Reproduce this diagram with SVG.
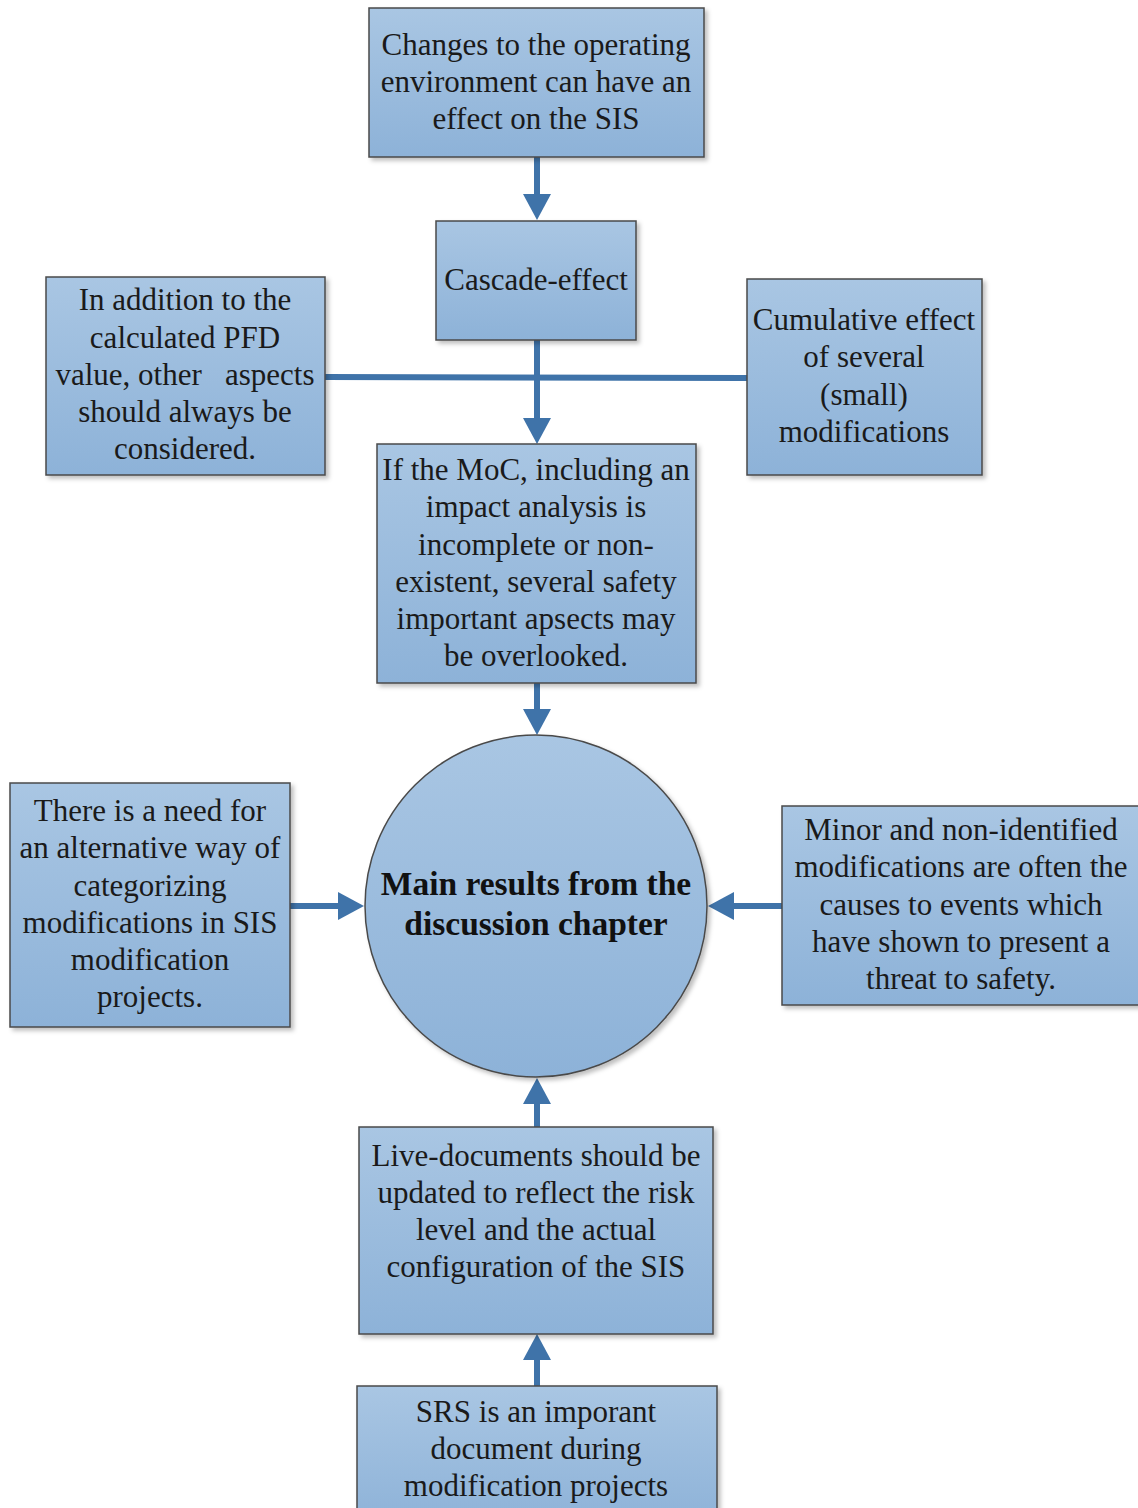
<svg xmlns="http://www.w3.org/2000/svg" width="1138" height="1508" viewBox="0 0 1138 1508">
  <defs>
    <linearGradient id="fill" x1="0" y1="0" x2="0" y2="1">
      <stop offset="0" stop-color="#a9c6e3"/>
      <stop offset="1" stop-color="#8db2d8"/>
    </linearGradient>
    <filter id="shadow" x="-10%" y="-10%" width="125%" height="125%">
      <feDropShadow dx="3" dy="3" stdDeviation="2" flood-color="#000" flood-opacity="0.25"/>
    </filter>
    <marker id="head" viewBox="0 0 26 28" markerWidth="26" markerHeight="28" refX="6" refY="14" orient="auto" markerUnits="userSpaceOnUse">
      <path d="M0,0 L26,14 L0,28 Z" fill="#3f73a9"/>
    </marker>
  </defs>
  <style>
    .box { fill: url(#fill); stroke: #4a4a4a; stroke-width: 1.5; filter: url(#shadow); }
    .t { font-family: "Liberation Serif", "Times New Roman", serif; font-size: 31px; fill: #1a1a1a; text-anchor: middle; white-space: pre; }
    .b { font-family: "Liberation Serif", "Times New Roman", serif; font-size: 33.5px; font-weight: bold; fill: #111; text-anchor: middle; }
    .c { fill: none; stroke: #3f73a9; stroke-width: 6; }
    .a { marker-end: url(#head); }
  </style>

  <g id="connectors">
    <path class="c a" d="M537,157 V200" stroke-width="7"/>
    <path class="c a" d="M537,340 V424" stroke-width="7"/>
    <path class="c" d="M325,377 L747,378"/>
    <path class="c a" d="M537,683 V715"/>
    <path class="c a" d="M290,906 H344"/>
    <path class="c a" d="M782,906 H728"/>
    <path class="c a" d="M537,1127 V1098"/>
    <path class="c a" d="M537,1386 V1354"/>
  </g>

  <g id="operating-environment">
    <rect class="box" x="369" y="8" width="335" height="149"/>
    <text class="t" x="536" y="55">Changes to the operating</text>
    <text class="t" x="536" y="92">environment can have an</text>
    <text class="t" x="536" y="129">effect on the SIS</text>
  </g>

  <g id="cascade-effect">
    <rect class="box" x="436" y="221" width="200" height="119"/>
    <text class="t" x="536" y="290">Cascade-effect</text>
  </g>

  <g id="pfd-aspects">
    <rect class="box" x="46" y="277" width="279" height="198"/>
    <text class="t" x="185" y="310">In addition to the</text>
    <text class="t" x="185" y="348">calculated PFD</text>
    <text class="t" x="185" y="385">value, other   aspects</text>
    <text class="t" x="185" y="422">should always be</text>
    <text class="t" x="185" y="459">considered.</text>
  </g>

  <g id="cumulative-effect">
    <rect class="box" x="747" y="279" width="235" height="196"/>
    <text class="t" x="864" y="330">Cumulative effect</text>
    <text class="t" x="864" y="367">of several</text>
    <text class="t" x="864" y="405">(small)</text>
    <text class="t" x="864" y="442">modifications</text>
  </g>

  <g id="moc-impact">
    <rect class="box" x="377" y="444" width="319" height="239"/>
    <text class="t" x="536" y="480">If the MoC, including an</text>
    <text class="t" x="536" y="517">impact analysis is</text>
    <text class="t" x="536" y="555">incomplete or non-</text>
    <text class="t" x="536" y="592">existent, several safety</text>
    <text class="t" x="536" y="629">important apsects may</text>
    <text class="t" x="536" y="666">be overlooked.</text>
  </g>

  <g id="main-results">
    <circle class="box" cx="536" cy="906" r="171"/>
    <text class="b" x="536" y="895">Main results from the</text>
    <text class="b" x="536" y="935">discussion chapter</text>
  </g>

  <g id="categorizing">
    <rect class="box" x="10" y="783" width="280" height="244"/>
    <text class="t" x="150" y="821">There is a need for</text>
    <text class="t" x="150" y="858">an alternative way of</text>
    <text class="t" x="150" y="896">categorizing</text>
    <text class="t" x="150" y="933">modifications in SIS</text>
    <text class="t" x="150" y="970">modification</text>
    <text class="t" x="150" y="1007">projects.</text>
  </g>

  <g id="minor-modifications">
    <rect class="box" x="782" y="806" width="360" height="199"/>
    <text class="t" x="961" y="840">Minor and non-identified</text>
    <text class="t" x="961" y="877">modifications are often the</text>
    <text class="t" x="961" y="915">causes to events which</text>
    <text class="t" x="961" y="952">have shown to present a</text>
    <text class="t" x="961" y="989">threat to safety.</text>
  </g>

  <g id="live-documents">
    <rect class="box" x="359" y="1127" width="354" height="207"/>
    <text class="t" x="536" y="1166">Live-documents should be</text>
    <text class="t" x="536" y="1203">updated to reflect the risk</text>
    <text class="t" x="536" y="1240">level and the actual</text>
    <text class="t" x="536" y="1277">configuration of the SIS</text>
  </g>

  <g id="srs-document">
    <rect class="box" x="357" y="1386" width="360" height="140"/>
    <text class="t" x="536" y="1422">SRS is an imporant</text>
    <text class="t" x="536" y="1459">document during</text>
    <text class="t" x="536" y="1496">modification projects</text>
  </g>
</svg>
